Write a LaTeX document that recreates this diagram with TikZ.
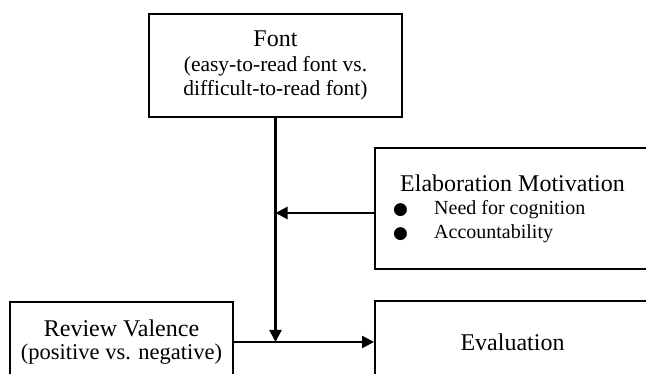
\documentclass[tikz,border=0pt]{standalone}
\usepackage{fontspec}
\setmainfont{Liberation Serif}
\newfontfamily\dotfont{DejaVu Sans}
\usetikzlibrary{arrows.meta}
\newcommand{\blt}{\makebox[34pt][l]{\hspace*{-7pt}{\dotfont\fontsize{17}{17}\selectfont ●}}}
\begin{document}
\begin{tikzpicture}[
  x=1pt, y=-1pt,
  varbox/.style={rectangle, draw, line width=1.9pt, inner sep=0pt, align=center},
  link/.style={draw, line width=2.3pt, -{Triangle[length=12pt,width=12pt]}},
  title/.style={font=\fontsize{24}{24}\selectfont}
]
\useasboundingbox (0,0) rectangle (646,374);
\clip (0,0) rectangle (646,374);
% variables
\node[varbox, minimum width=253pt, minimum height=103pt,
  font={\fontsize{21.5}{24.5}\selectfont}] (font) at (275.5,65.5)
  {{\fontsize{24}{24}\selectfont Font}\\(easy-to-read font vs.\\difficult-to-read font)};
\node[varbox, minimum width=275pt, minimum height=121pt, align=left,
  font={\fontsize{20}{23.5}\selectfont}] (elab) at (512.5,208.5)
  {{\fontsize{24}{24}\selectfont Elaboration Motivation}\\
   \blt Need for cognition\\
   \blt Accountability};
\node[varbox, minimum width=223pt, minimum height=80pt,
  font={\fontsize{22.5}{22.5}\selectfont}] (review) at (121.5,342)
  {{\fontsize{24}{24}\selectfont Review Valence}\\(positive vs. negative)};
\node[varbox, title, minimum width=275pt, minimum height=82pt] (eval) at (512.5,342)
  {Evaluation};
% paths
\coordinate (join) at (font.south |- review.east);
\draw[link] (review.east) -- (eval.west);
\draw[link] (font.south) -- (join);
\draw[link] ([yshift=-4.5pt]elab.west) -- ([yshift=-4.5pt]elab.west -| font.south);
\end{tikzpicture}
\end{document}
